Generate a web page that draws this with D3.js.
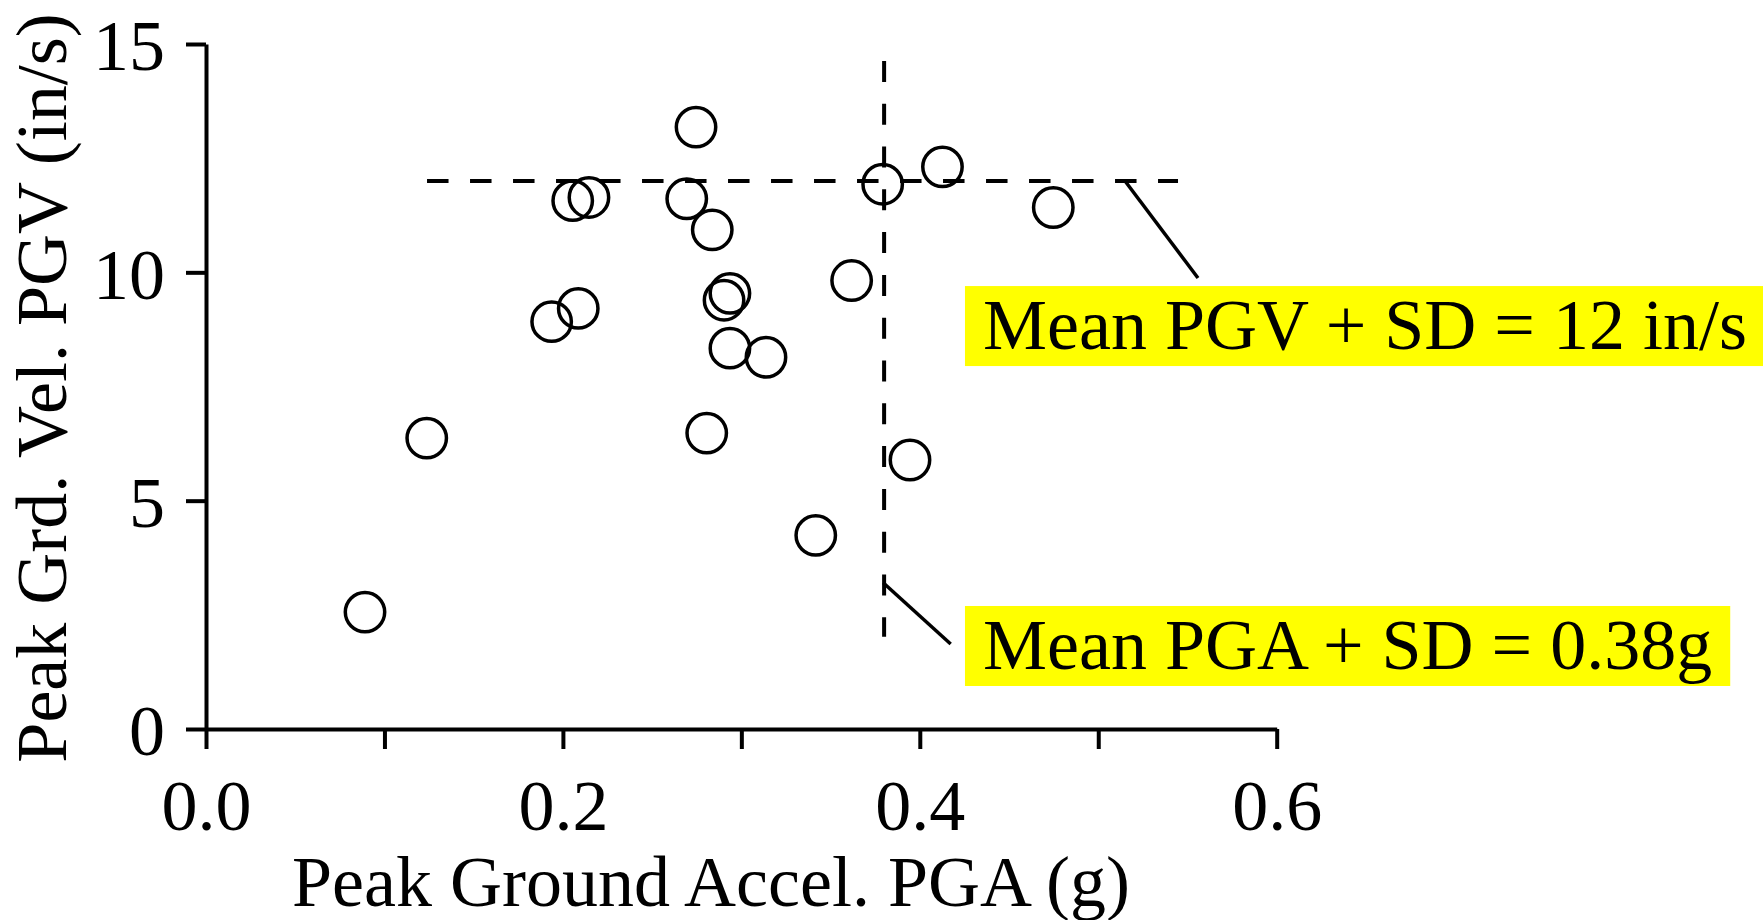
<!DOCTYPE html>
<html>
<head>
<meta charset="utf-8">
<script src="https://cdn.jsdelivr.net/npm/d3@7/dist/d3.min.js"></script>
<style>
  html, body { margin: 0; padding: 0; background: #fff; }
  svg { display: block; }
  text { font-family: "Liberation Serif", "Times New Roman", serif; fill: #000; }
</style>
</head>
<body>
<svg id="chart" width="1763" height="920"></svg>
<script>
// ---- data ----
const pga = [0.2746, 0.2055, 0.2146, 0.2694, 0.2837, 0.3792, 0.4127, 0.4748, 0.3618, 0.2936,
             0.2903, 0.1937, 0.2086, 0.2936, 0.3138, 0.1237, 0.2806, 0.3945, 0.3417, 0.0891];
const pgv = [13.18, 11.57, 11.64, 11.61, 10.93, 11.93, 12.31, 11.42, 9.82, 9.54,
             9.39, 8.92, 9.21, 8.34, 8.14, 6.37, 6.48, 5.89, 4.24, 2.56];

const xTickValues = [0, 0.1, 0.2, 0.3, 0.4, 0.5, 0.6];
const xTickLabels = ["0.0", "", "0.2", "", "0.4", "", "0.6"];
const yTickValues = [0, 5, 10, 15];
const yTickLabels = ["0", "5", "10", "15"];

const meanPGV = 12;          // in/s
const meanPGA = 0.38;        // g
const pgvLineExtent = [0.1205, 0.5447];   // x-range of horizontal reference line
const pgaLineExtent = [14.63, 2.02];      // y-range of vertical reference line (top to bottom)

const annotTexts = ["Mean PGV + SD = 12 in/s", "Mean PGA + SD = 0.38g"];
const annotX = [0.4354, 0.4354];          // text start (data x)
const annotY = [8.32, 1.314];             // text baseline (data y)
const leaderFrom = [[0.515, 12.0], [0.3795, 3.204]];
const leaderTo   = [[0.5559, 9.876], [0.4173, 1.861]];

const xTitle = "Peak Ground Accel. PGA (g)";
const yTitle = "Peak Grd. Vel. PGV (in/s)";

// ---- layout ----
const svg = d3.select("#chart");
const FS = 72;
const x = d3.scaleLinear().domain([0, 0.6]).range([206, 1276.7]);
const y = d3.scaleLinear().domain([0, 15]).range([729, 44]);

// axes
const xAxis = d3.axisBottom(x).tickValues(xTickValues)
  .tickFormat((d, i) => xTickLabels[i]).tickSizeInner(20).tickSizeOuter(0).tickPadding(30);
const yAxis = d3.axisLeft(y).tickValues(yTickValues)
  .tickFormat((d, i) => yTickLabels[i]).tickSizeInner(20).tickSizeOuter(0).tickPadding(21);

const gx = svg.append("g").attr("transform", `translate(0,${y(0)})`).call(xAxis);
const gy = svg.append("g").attr("transform", `translate(${x(0)},0)`).call(yAxis);
[gx, gy].forEach(g => {
  g.select(".domain").attr("stroke", "#000").attr("stroke-width", 4);
  g.selectAll(".tick line").attr("stroke", "#000").attr("stroke-width", 4);
  g.selectAll(".tick text").style("font-family", '"Liberation Serif", serif')
    .attr("font-size", FS).attr("fill", "#000");
});
gy.selectAll(".tick text").attr("dy", "0.36em");
gx.selectAll(".tick text").attr("dy", "0.71em");

// reference dashed lines
svg.append("line")
  .attr("x1", x(pgvLineExtent[0])).attr("x2", x(pgvLineExtent[1]))
  .attr("y1", y(meanPGV)).attr("y2", y(meanPGV))
  .attr("stroke", "#000").attr("stroke-width", 4).attr("stroke-dasharray", "21.5 21.5")
  .attr("stroke-dashoffset", 37);
svg.append("line")
  .attr("x1", x(meanPGA)).attr("x2", x(meanPGA))
  .attr("y1", y(pgaLineExtent[0])).attr("y2", y(pgaLineExtent[1]))
  .attr("stroke", "#000").attr("stroke-width", 4).attr("stroke-dasharray", "21 21.8");

// points
const pts = pga.map((v, i) => ({ x: v, y: pgv[i] }));
svg.append("g").selectAll("circle").data(pts).join("circle")
  .attr("cx", d => x(d.x)).attr("cy", d => y(d.y)).attr("r", 19.7)
  .attr("fill", "none").attr("stroke", "#000").attr("stroke-width", 3.5);

// leader lines
leaderFrom.forEach((f, i) => {
  svg.append("line")
    .attr("x1", x(f[0])).attr("y1", y(f[1]))
    .attr("x2", x(leaderTo[i][0])).attr("y2", y(leaderTo[i][1]))
    .attr("stroke", "#000").attr("stroke-width", 3.5);
});

// annotations with yellow boxes
annotTexts.forEach((t, i) => {
  const g = svg.append("g");
  const rect = g.append("rect").attr("fill", "#ffff00");
  const txt = g.append("text")
    .attr("x", x(annotX[i])).attr("y", y(annotY[i]))
    .attr("font-size", FS).text(t);
  const bb = txt.node().getBBox();
  const by = y(annotY[i]);
  rect.attr("x", bb.x - 18).attr("width", bb.width + 36)
      .attr("y", by - 63).attr("height", 80);
});

// axis titles
svg.append("text")
  .attr("x", 711).attr("y", 906)
  .attr("text-anchor", "middle").attr("font-size", FS).text(xTitle);
svg.append("text")
  .attr("transform", `translate(66,388) rotate(-90)`)
  .attr("text-anchor", "middle").attr("font-size", FS).text(yTitle);
</script>
</body>
</html>
